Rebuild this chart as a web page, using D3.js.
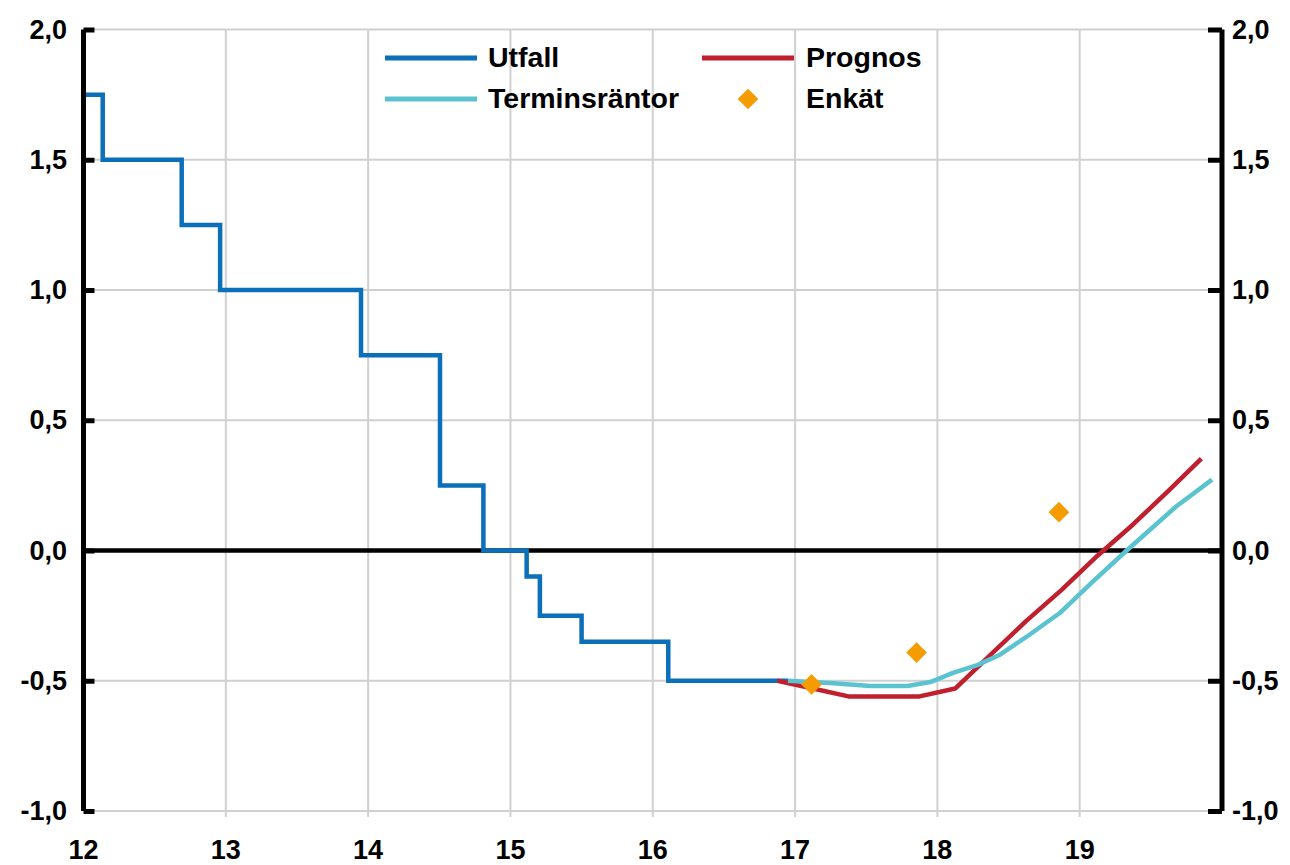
<!DOCTYPE html>
<html><head><meta charset="utf-8">
<script src="https://cdn.jsdelivr.net/npm/d3@7"></script>
<style>html,body{margin:0;padding:0;background:#fff;}svg{display:block;font-family:"Liberation Sans",Arial,sans-serif;font-weight:bold;}</style>
</head><body>
<svg id="chart" width="1290" height="865"></svg>
<script>
// ---- data ----
const yTicks = [-1.0, -0.5, 0.0, 0.5, 1.0, 1.5, 2.0];
const xTicks = [12, 13, 14, 15, 16, 17, 18, 19];
const utfallX = [12.0, 12.135, 12.69, 12.96, 13.95, 14.505, 14.81, 15.114, 15.207, 15.50, 16.109, 16.95];
const utfallY = [1.75, 1.5, 1.25, 1.0, 0.75, 0.25, 0.0, -0.1, -0.25, -0.35, -0.5, -0.5];
const prognosX = [16.875, 17.125, 17.375, 17.625, 17.875, 18.125, 18.375, 18.625, 18.875, 19.125, 19.375, 19.625, 19.855];
const prognosY = [-0.50, -0.53, -0.56, -0.56, -0.56, -0.53, -0.40, -0.27, -0.15, -0.02, 0.10, 0.23, 0.353];
const terminX = [16.95, 17.27, 17.53, 17.79, 17.95, 18.11, 18.28, 18.44, 18.63, 18.86, 19.09, 19.33, 19.68, 19.93];
const terminY = [-0.50, -0.51, -0.52, -0.52, -0.505, -0.47, -0.44, -0.40, -0.33, -0.24, -0.12, 0.00, 0.17, 0.272];
const enkatX = [17.116, 17.854, 18.854];
const enkatY = [-0.514, -0.392, 0.147];
const legendItems = [
  {name: "Utfall", type: "line", color: "#0b6fba"},
  {name: "Terminsräntor", type: "line", color: "#5bc3d0"},
  {name: "Prognos", type: "line", color: "#c0202e"},
  {name: "Enkät", type: "diamond", color: "#f59d00"}
];

const svg = d3.select("#chart");
const x = d3.scaleLinear().domain([12, 20]).range([83.5, 1222]);
const y = d3.scaleLinear().domain([-1, 2]).range([811, 29.5]);
const COL = {utfall: "#0b6fba", termin: "#5bc3d0", prognos: "#c0202e", enkat: "#f59d00"};

// gridlines
const grid = svg.append("g");
grid.selectAll("line.v").data(xTicks.filter(d => d > 12)).join("line")
  .attr("x1", d => x(d)).attr("x2", d => x(d)).attr("y1", y(2)).attr("y2", y(-1) + 6)
  .attr("stroke", "#d0d0d0").attr("stroke-width", 2);
grid.selectAll("line.h").data(yTicks.filter(d => d !== 0)).join("line")
  .attr("x1", x(12)).attr("x2", x(20)).attr("y1", d => y(d)).attr("y2", d => y(d))
  .attr("stroke", "#d0d0d0").attr("stroke-width", 2);

// zero line
svg.append("line").attr("x1", x(12)).attr("x2", x(20)).attr("y1", y(0)).attr("y2", y(0))
  .attr("stroke", "#000").attr("stroke-width", 4.5);

// legend
const leg = svg.append("g");
const legPos = [{lx: 385, ly: 58}, {lx: 385, ly: 99}, {lx: 702, ly: 58}, {lx: 702, ly: 99}];
legendItems.forEach((it, i) => {
  const p = legPos[i];
  if (it.type === "line") {
    leg.append("line").attr("x1", p.lx).attr("x2", p.lx + 92).attr("y1", p.ly).attr("y2", p.ly)
      .attr("stroke", it.color).attr("stroke-width", 5);
  } else {
    leg.append("path").attr("d", d3.symbol(d3.symbolSquare, 215)())
      .attr("transform", `translate(${p.lx + 46},${p.ly}) rotate(45)`).attr("fill", it.color);
  }
  leg.append("text").attr("x", p.lx + (i < 2 ? 103 : 104)).attr("y", p.ly + 9)
    .attr("font-size", 28.5).attr("fill", "#000").text(it.name);
});

// lines
const line = d3.line().x(d => x(d[0])).y(d => y(d[1]));
svg.append("path").datum(d3.zip(utfallX, utfallY))
  .attr("d", line.curve(d3.curveStepAfter)).attr("fill", "none")
  .attr("stroke", COL.utfall).attr("stroke-width", 4.5);
const line2 = d3.line().x(d => x(d[0])).y(d => y(d[1]));
svg.append("path").datum(d3.zip(prognosX, prognosY))
  .attr("d", line2).attr("fill", "none").attr("stroke", COL.prognos).attr("stroke-width", 4.5)
  .attr("stroke-linejoin", "round");
svg.append("path").datum(d3.zip(terminX, terminY))
  .attr("d", line2).attr("fill", "none").attr("stroke", COL.termin).attr("stroke-width", 4.5)
  .attr("stroke-linejoin", "round");

// enkät diamonds
svg.selectAll("path.enk").data(d3.zip(enkatX, enkatY)).join("path")
  .attr("d", d3.symbol(d3.symbolSquare, 215)())
  .attr("transform", d => `translate(${x(d[0])},${y(d[1])}) rotate(45)`)
  .attr("fill", COL.enkat);

// axes
const fmt = d => d3.format(".1f")(d).replace(".", ",").replace("−", "-");
const leftAx = svg.append("g").attr("transform", `translate(${x(12)},0)`)
  .call(d3.axisRight(y).tickValues(yTicks).tickSize(11).tickFormat(""));
leftAx.select(".domain").attr("d", `M0,${y(2)}V${y(-1)}`).attr("stroke", "#000").attr("stroke-width", 5);
leftAx.selectAll(".tick line").attr("stroke", "#000").attr("stroke-width", 5);
const rightAx = svg.append("g").attr("transform", `translate(${x(20)},0)`)
  .call(d3.axisLeft(y).tickValues(yTicks).tickSize(14).tickFormat(""));
rightAx.select(".domain").attr("d", `M0,${y(2)}V${y(-1)}`).attr("stroke", "#000").attr("stroke-width", 5);
rightAx.selectAll(".tick line").attr("stroke", "#000").attr("stroke-width", 5);

// tick labels
svg.append("g").selectAll("text").data(yTicks).join("text")
  .attr("x", 67).attr("y", d => y(d) + 9).attr("text-anchor", "end")
  .attr("font-size", 27).text(fmt);
svg.append("g").selectAll("text").data(yTicks).join("text")
  .attr("x", 1232).attr("y", d => y(d) + 9).attr("text-anchor", "start")
  .attr("font-size", 27).text(fmt);
svg.append("g").selectAll("text").data(xTicks).join("text")
  .attr("x", d => x(d)).attr("y", 859).attr("text-anchor", "middle")
  .attr("font-size", 27).text(d => d);
</script>
</body></html>
